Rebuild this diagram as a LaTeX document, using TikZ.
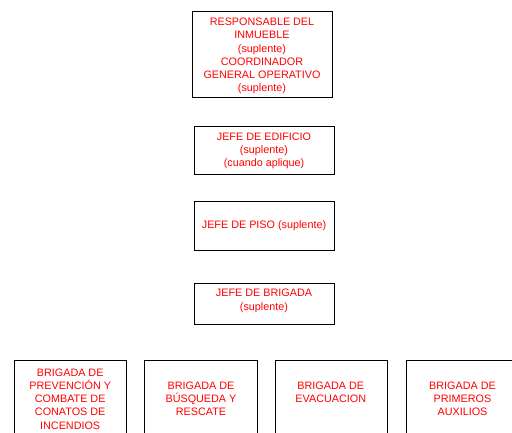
\documentclass[tikz,border=0pt]{standalone}
\usepackage{fontspec}
\setmainfont{Liberation Sans}
\begin{document}
\begin{tikzpicture}[x=1pt,y=-1pt,
  box/.style={draw=black,line width=0.8pt,inner sep=0pt},
  lbl/.style={text=red,align=center,inner sep=0pt,font=\fontsize{10.8}{13.2}\selectfont}]
\clip (0,0) rectangle (512,432);
\fill[white] (0,0) rectangle (512,432);
% top chain
\node[box,minimum width=140pt,minimum height=86pt] (b1) at (262,54) {};
\node[lbl] (t1) at (262,56) {RESPONSABLE DEL\\INMUEBLE\\(suplente)\\COORDINADOR\\GENERAL OPERATIVO\\(suplente)};
\node[box,minimum width=140pt,minimum height=48pt] (b2) at (264,150) {};
\node[lbl] (t2) at (264,151) {JEFE DE EDIFICIO\\(suplente)\\(cuando aplique)};
\node[box,minimum width=140pt,minimum height=49pt] (b3) at (264,225.5) {};
\node[lbl] (t3) at (264,225.7) {JEFE DE PISO (suplente)};
\node[box,minimum width=140pt,minimum height=41pt] (b4) at (264,303.5) {};
\node[lbl] (t4) at (264,300.8) {JEFE DE BRIGADA\\(suplente)};
% brigades
\node[box,minimum width=112pt,minimum height=80pt] (ba) at (70,400) {};
\node[lbl] (ta) at (70.2,399) {BRIGADA DE\\PREVENCIÓN Y\\COMBATE DE\\CONATOS DE\\INCENDIOS};
\node[box,minimum width=113pt,minimum height=80pt] (bb) at (200.8,400) {};
\node[lbl] (tb) at (201,399) {BRIGADA DE\\BÚSQUEDA Y\\RESCATE};
\node[box,minimum width=112.7pt,minimum height=80pt] (bc) at (331.3,400) {};
\node[lbl] (tc) at (330.8,392.3) {BRIGADA DE\\EVACUACION};
\node[box,minimum width=112pt,minimum height=80pt] (bd) at (462,400) {};
\node[lbl] (td) at (462.5,399) {BRIGADA DE\\PRIMEROS\\AUXILIOS};
\end{tikzpicture}
\end{document}
